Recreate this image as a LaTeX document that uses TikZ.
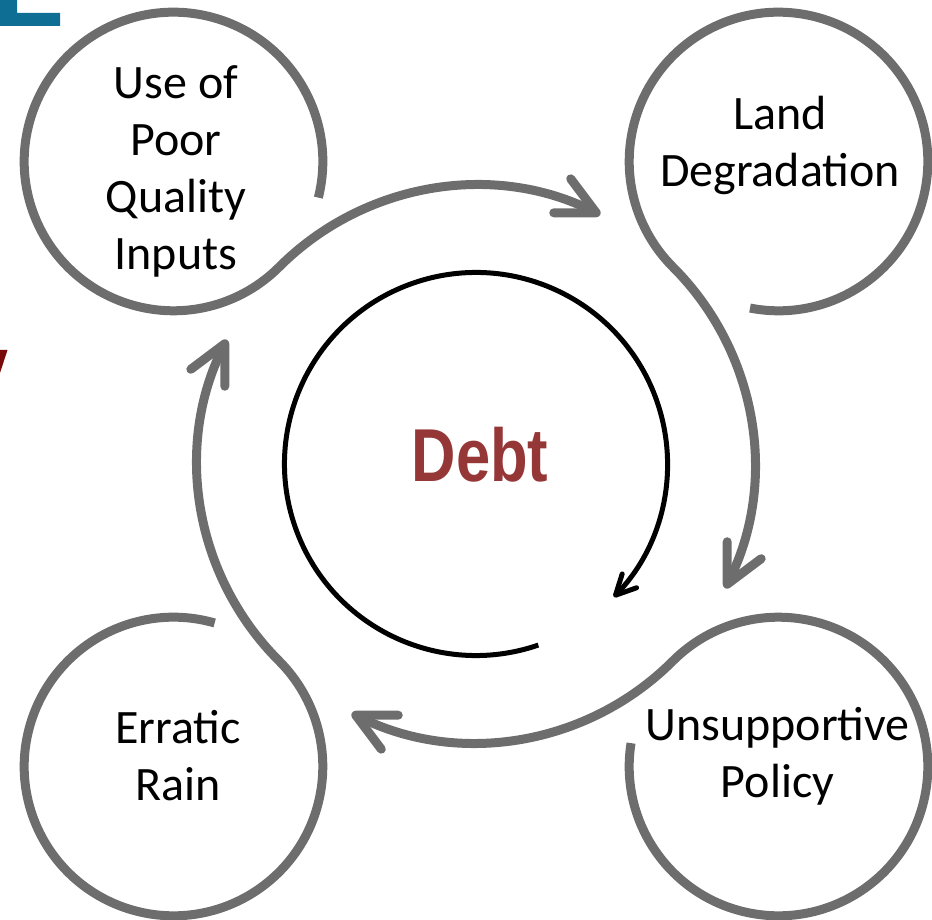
\documentclass[tikz,border=0pt]{standalone}
\usepackage{fontspec}
\setmainfont{Carlito}
\newfontfamily\debtfont{Liberation Sans}[FakeStretch=0.82]
\usetikzlibrary{arrows.meta}
\definecolor{ringgray}{RGB}{109,109,109}
\definecolor{debtred}{RGB}{150,55,55}
\definecolor{slideblue}{RGB}{14,110,148}
\definecolor{slidered}{RGB}{122,10,10}
\begin{document}
\begin{tikzpicture}[x=1pt,y=1pt,
  flow/.style={draw=ringgray, line width=9pt, -{Straight Barb[length=38pt,width=38pt,round]}},
  cycleline/.style={draw=black, line width=5pt, -{Straight Barb[length=20pt,width=20pt,round]}},
  lbl/.style={align=center, font=\fontsize{48}{57}\selectfont, inner sep=0pt},
  debtlbl/.style={font=\debtfont\bfseries\fontsize{75}{80}\selectfont, text=debtred, inner sep=0pt}]
\useasboundingbox (0,0) rectangle (932,919);
% slide fragments at the edges
\fill[slideblue] (0,919) -- (17,919) -- (17,906) -- (60,906) -- (60,893) -- (0,893) -- cycle;
\fill[slidered] (0,569) -- (7.5,569) -- (0,546) -- cycle;
% centres
\coordinate (o) at (476,455);
\coordinate (ul) at (173.5,757.5);
\coordinate (ur) at (778.5,757.5);
\coordinate (lr) at (778.5,152.5);
\coordinate (ll) at (173.5,152.5);
% labels
\node[lbl] (tul) at (176,748) {Use of\\Poor\\Quality\\Inputs};
\node[lbl] (tur) at (780,773.5) {Land\\Degradation};
\node[lbl] (tlr) at (777.5,162.5) {Unsupportive\\Policy};
\node[lbl] (tll) at (178,163.5) {Erratic\\Rain};
\node[debtlbl] (debt) at (480,464) {Debt};
% flows
\draw[flow] (ul) ++(-14:149.3pt) arc[start angle=-14,end angle=315,radius=149.3pt]
  arc[start angle=135,end angle=63.5,radius=278.5pt];
\draw[flow] (ur) ++(-101:149.3pt) arc[start angle=-101,end angle=225,radius=149.3pt]
  arc[start angle=45,end angle=-26.5,radius=278.5pt];
\draw[flow] (lr) ++(171:149.3pt) arc[start angle=171,end angle=495,radius=149.3pt]
  arc[start angle=-45,end angle=-116.5,radius=278.5pt];
\draw[flow] (ll) ++(74:149.3pt) arc[start angle=74,end angle=405,radius=149.3pt]
  arc[start angle=225,end angle=153.5,radius=278.5pt];
% inner cycle
\draw[cycleline] (o) ++(-71:191.5pt) arc[start angle=-71,end angle=-404,radius=191.5pt];
\end{tikzpicture}
\end{document}
